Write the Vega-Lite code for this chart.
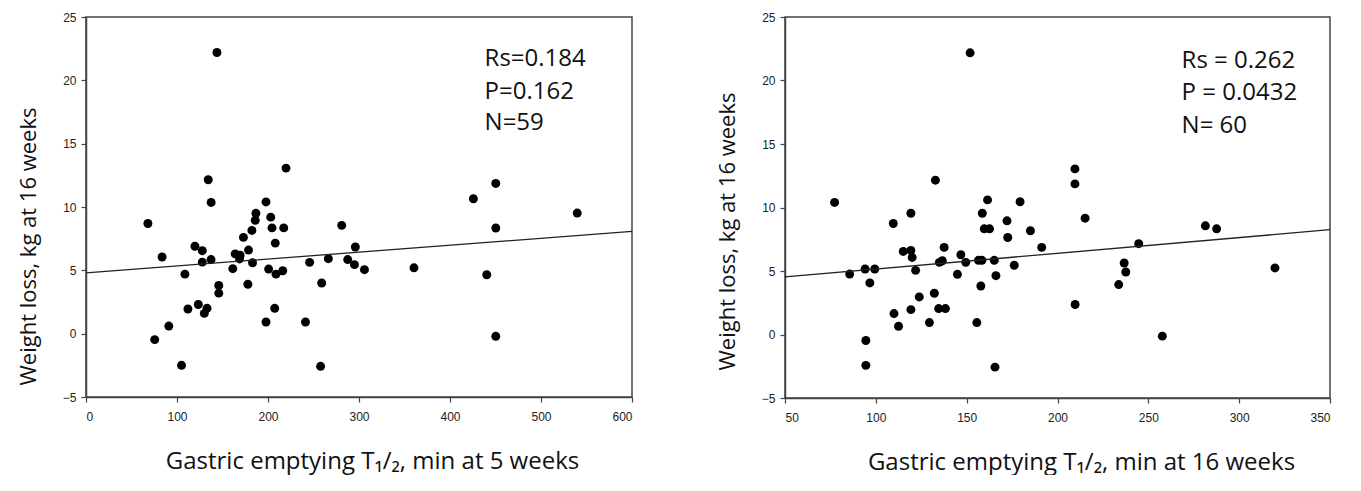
{
  "$schema": "https://vega.github.io/schema/vega-lite/v6.json",
  "padding": {"left": 16, "top": 6, "right": 5, "bottom": 0},
  "background": "white",
  "spacing": 79,
  "config": {
    "view": {"stroke": "#444", "strokeWidth": 1.5},
    "axis": {"domainColor": "#444", "domainWidth": 1.5, "tickColor": "#444", "tickWidth": 1.2, "tickSize": 5, "grid": false,
      "labelFont": "Liberation Sans", "labelFontSize": 12, "labelColor": "#222",
      "titleFont": "Open Sans", "titleFontWeight": "normal", "titleColor": "#111"},
    "axisX": {"labelPadding": 9, "titlePadding": 27, "titleFontSize": 24},
    "axisY": {"labelPadding": 5, "titlePadding": 22, "titleFontSize": 22}
  },
  "datasets": {
    "wk5": [
      {"x":68,"y":8.7},{"x":83.6,"y":6.05},{"x":75.5,"y":-0.47},{"x":91,"y":0.6},{"x":105,"y":-2.5},{"x":108.7,"y":4.7},{"x":112,"y":1.95},{"x":119.7,"y":6.9},{"x":123.4,"y":2.3},{"x":127.8,"y":6.55},{"x":127.8,"y":5.65},{"x":133,"y":2.0},{"x":130,"y":1.6},{"x":137.4,"y":5.85},{"x":137.5,"y":10.36},{"x":145.9,"y":3.8},{"x":145.9,"y":3.2},{"x":161.3,"y":5.13},{"x":163.9,"y":6.3},{"x":169.4,"y":6.2},{"x":168.7,"y":5.9},{"x":173,"y":7.6},{"x":177.9,"y":3.9},{"x":178.6,"y":6.6},{"x":182.3,"y":8.15},{"x":183,"y":5.6},{"x":186,"y":8.95},{"x":186.7,"y":9.5},{"x":197.8,"y":10.4},{"x":197.8,"y":0.92},{"x":200.7,"y":5.1},{"x":203,"y":9.2},{"x":204.4,"y":8.35},{"x":207.4,"y":2.0},{"x":208,"y":7.15},{"x":208.8,"y":4.7},{"x":217.3,"y":8.35},{"x":216.2,"y":4.97},{"x":241.2,"y":0.92},{"x":245.7,"y":5.63},{"x":257.8,"y":-2.58},{"x":259,"y":4.0},{"x":266.3,"y":5.92},{"x":281,"y":8.55},{"x":287.6,"y":5.85},{"x":296,"y":6.84},{"x":295,"y":5.45},{"x":306,"y":5.05},{"x":360.4,"y":5.2},{"x":440.4,"y":4.65},{"x":450.3,"y":8.34},{"x":450.3,"y":-0.21},{"x":539.8,"y":9.52},{"x":425.7,"y":10.65},{"x":450.3,"y":11.86},{"x":143.9,"y":22.2},{"x":134.3,"y":12.15},{"x":219.8,"y":13.07}
    ],
    "wk16": [
      {"x":77.3,"y":10.4},{"x":85.6,"y":4.76},{"x":94.1,"y":5.16},{"x":99.4,"y":5.16},{"x":96.7,"y":4.06},{"x":94.5,"y":-0.47},{"x":94.5,"y":-2.43},{"x":109.6,"y":8.74},{"x":110,"y":1.65},{"x":112.5,"y":0.65},{"x":115.1,"y":6.54},{"x":119.3,"y":9.55},{"x":119.3,"y":6.62},{"x":120,"y":6.07},{"x":119.3,"y":1.96},{"x":121.9,"y":5.05},{"x":123.9,"y":2.96},{"x":129.5,"y":0.94},{"x":132.2,"y":3.25},{"x":134.6,"y":2.04},{"x":138.3,"y":2.04},{"x":135,"y":5.68},{"x":136.6,"y":5.81},{"x":137.6,"y":6.86},{"x":144.9,"y":4.74},{"x":146.8,"y":6.28},{"x":149.5,"y":5.68},{"x":155.6,"y":0.94},{"x":156.5,"y":5.84},{"x":158.4,"y":5.84},{"x":157.8,"y":3.82},{"x":158.6,"y":9.55},{"x":159.7,"y":8.32},{"x":162.6,"y":8.32},{"x":161.5,"y":10.6},{"x":165.2,"y":5.84},{"x":166.1,"y":4.63},{"x":165.6,"y":-2.57},{"x":172.2,"y":8.95},{"x":172.6,"y":7.64},{"x":176.2,"y":5.45},{"x":179.4,"y":10.45},{"x":185.1,"y":8.17},{"x":191.3,"y":6.86},{"x":215.2,"y":9.16},{"x":209.7,"y":2.36},{"x":244.7,"y":7.15},{"x":236.7,"y":5.63},{"x":237.6,"y":4.92},{"x":233.7,"y":3.93},{"x":257.7,"y":-0.13},{"x":281.4,"y":8.56},{"x":287.6,"y":8.32},{"x":319.7,"y":5.24},{"x":151.9,"y":22.18},{"x":132.8,"y":12.15},{"x":209.6,"y":13.04},{"x":209.6,"y":11.86}
    ]
  },
  "hconcat": [
    {
      "width": 546, "height": 380,
      "encoding": {
        "x": {"field": "x", "type": "quantitative", "scale": {"domain": [0, 600], "nice": false, "zero": false},
          "axis": {"values": [0,100,200,300,400,500,600], "title": "Gastric emptying T₁/₂, min at 5 weeks", "titleX": 286}},
        "y": {"field": "y", "type": "quantitative", "scale": {"domain": [-5, 25], "nice": false, "zero": false},
          "axis": {"values": [-5,0,5,10,15,20,25], "title": "Weight loss, kg at 16 weeks", "titleY": 229}}
      },
      "layer": [
        {"data": {"name": "wk5"}, "mark": {"type": "circle", "size": 80, "color": "black", "opacity": 1}},
        {"data": {"values": [{"x": 0, "y": 4.8}, {"x": 600, "y": 8.07}]}, "mark": {"type": "line", "color": "#222", "strokeWidth": 1.3}},
        {"data": {"values": [{"x": 438, "y": 21.7, "t": "Rs=0.184"}, {"x": 438, "y": 19.1, "t": "P=0.162"}, {"x": 438, "y": 16.6, "t": "N=59"}]},
          "mark": {"type": "text", "align": "left", "baseline": "middle", "font": "Open Sans", "fontSize": 24, "color": "#111"},
          "encoding": {"text": {"field": "t"}}}
      ]
    },
    {
      "width": 545, "height": 381,
      "title": {"text": " ", "fontSize": 1, "offset": 3},
      "encoding": {
        "x": {"field": "x", "type": "quantitative", "scale": {"domain": [50, 350], "nice": false, "zero": false},
          "axis": {"values": [50,100,150,200,250,300,350], "title": "Gastric emptying T₁/₂, min at 16 weeks", "titleX": 296}},
        "y": {"field": "y", "type": "quantitative", "scale": {"domain": [-5, 25], "nice": false, "zero": false},
          "axis": {"values": [-5,0,5,10,15,20,25], "title": "Weight loss, kg at 16 weeks", "titleY": 214}}
      },
      "layer": [
        {"data": {"name": "wk16"}, "mark": {"type": "circle", "size": 80, "color": "black", "opacity": 1}},
        {"data": {"values": [{"x": 50, "y": 4.53}, {"x": 350, "y": 8.25}]}, "mark": {"type": "line", "color": "#222", "strokeWidth": 1.3}},
        {"data": {"values": [{"x": 268.3, "y": 21.5, "t": "Rs = 0.262"}, {"x": 268.3, "y": 19.0, "t": "P = 0.0432"}, {"x": 268.3, "y": 16.45, "t": "N= 60"}]},
          "mark": {"type": "text", "align": "left", "baseline": "middle", "font": "Open Sans", "fontSize": 24, "color": "#111"},
          "encoding": {"text": {"field": "t"}}}
      ]
    }
  ]
}
